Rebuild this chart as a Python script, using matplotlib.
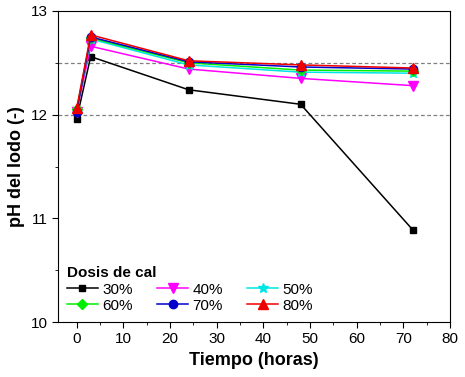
import matplotlib
matplotlib.use('Agg')
import matplotlib.pyplot as plt
from matplotlib.ticker import MultipleLocator

plt.rcParams['font.family'] = ['Liberation Sans', 'DejaVu Sans']

tiempo = [0, 3, 24, 48, 72]
ph_30 = [11.96, 12.56, 12.24, 12.10, 10.89]
ph_40 = [12.03, 12.66, 12.44, 12.35, 12.28]
ph_50 = [12.04, 12.73, 12.48, 12.41, 12.40]
ph_60 = [12.05, 12.74, 12.50, 12.43, 12.42]
ph_70 = [12.03, 12.75, 12.51, 12.46, 12.44]
ph_80 = [12.06, 12.77, 12.52, 12.48, 12.45]
etiquetas = ['30%', '40%', '50%', '60%', '70%', '80%']

series = [
    (ph_30, '#000000', 's', 5),
    (ph_40, '#ff00ff', 'v', 7),
    (ph_50, '#00e5e5', '*', 7),
    (ph_60, '#00ee00', 'D', 5),
    (ph_70, '#0000cc', 'o', 6),
    (ph_80, '#ee0000', '^', 7),
]

fig = plt.figure(figsize=(4.65, 3.77), dpi=100)
ax = fig.add_axes([58 / 465, 55 / 377, 392 / 465, 311 / 377])

ax.axhline(12.0, color='gray', ls='--', lw=0.9, dashes=(3, 2))
ax.axhline(12.5, color='gray', ls='--', lw=0.9, dashes=(3, 2))

lineas = []
for (vals, c, m, ms), lab in zip(series, etiquetas):
    l, = ax.plot(tiempo, vals, color=c, marker=m, markersize=ms, lw=1.1, label=lab)
    lineas.append(l)

ax.set_xlim(-4, 80)
ax.set_ylim(10, 13)
ax.xaxis.set_major_locator(MultipleLocator(10))
ax.xaxis.set_minor_locator(MultipleLocator(5))
ax.yaxis.set_major_locator(MultipleLocator(1))
ax.yaxis.set_minor_locator(MultipleLocator(0.5))
ax.tick_params(which='both', direction='out', labelsize=11, top=False, right=False)
ax.tick_params(which='major', length=4)
ax.tick_params(which='minor', length=2.5)

ax.set_xlabel('Tiempo (horas)', fontsize=13, fontweight='bold')
ax.set_ylabel('pH del lodo (-)', fontsize=13, fontweight='bold')

# orden por filas: 30 40 50 / 60 70 80
orden = [0, 3, 1, 4, 2, 5]
leg = ax.legend([lineas[i] for i in orden], [etiquetas[i] for i in orden],
                loc='lower left', ncol=3, frameon=False, fontsize=11,
                title='Dosis de cal', columnspacing=1.6, handlelength=2.0,
                handletextpad=0.3, labelspacing=0.15, borderaxespad=0.2)
leg.get_title().set_fontweight('bold')
leg.get_title().set_fontsize(11)
leg._legend_box.align = 'left'

fig.savefig('out.png', dpi=100)
